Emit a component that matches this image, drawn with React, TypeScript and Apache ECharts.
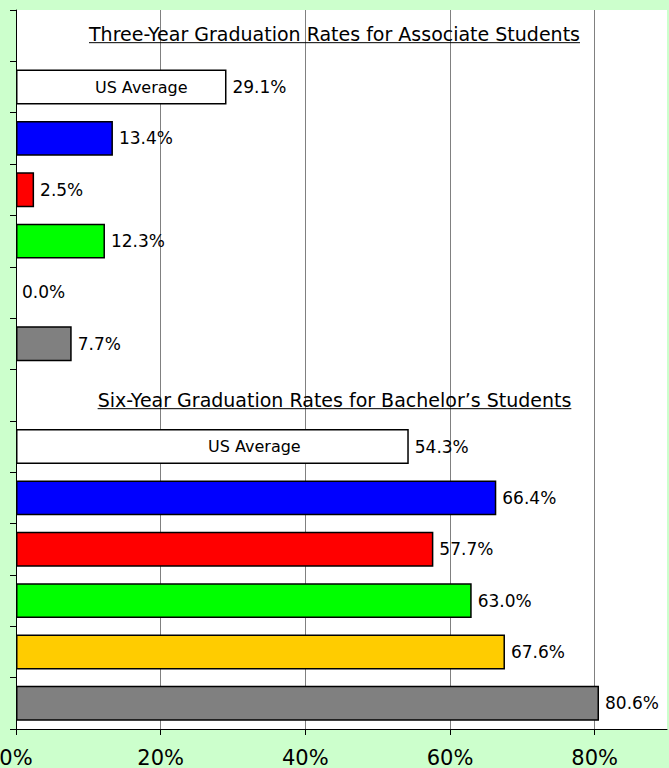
import React, { useEffect, useRef } from "react";
import * as echarts from "echarts";

const sectionTitles = [
  "Three-Year Graduation Rates for Associate Students",
  "Six-Year Graduation Rates for Bachelor\u2019s Students",
];
const barNames = ["US Average", "Blue", "Red", "Green", "Yellow", "Gray"];
const associateRates = [29.1, 13.4, 2.5, 12.3, 0.0, 7.7];
const bachelorRates = [54.3, 66.4, 57.7, 63.0, 67.6, 80.6];
const barColors = ["#FFFFFF", "#0000FF", "#FF0000", "#00FF00", "#FFCC00", "#808080"];
const xTickValues = [0, 20, 40, 60, 80];
const xMax = 90;
const usAverageLabel = "US Average";

const FONT = '"DejaVu Sans", Verdana, sans-serif';

type Row = { kind: "title"; text: string; section: number } | { kind: "bar"; name: string; value: number; color: string; section: number; idx: number };

function buildRows(): Row[] {
  const rows: Row[] = [];
  [associateRates, bachelorRates].forEach((vals, s) => {
    rows.push({ kind: "title", text: sectionTitles[s], section: s });
    vals.forEach((v, i) => rows.push({ kind: "bar", name: barNames[i], value: v, color: barColors[i], section: s, idx: i }));
  });
  return rows;
}

export default function App() {
  const ref = useRef<HTMLDivElement>(null);
  useEffect(() => {
    if (!ref.current) return;
    const chart = echarts.init(ref.current, null, { renderer: "svg" });
    const rows = buildRows();
    const categories = rows.map((r) => (r.kind === "title" ? r.text : `${r.section === 0 ? "Associate" : "Bachelor"} ${r.name}`));
    const usOffsets = [20, 42];
    const option: any = {
      animation: false,
      backgroundColor: "#CCFFCC",
      grid: {
        left: 16,
        right: 2,
        top: 10,
        bottom: 39,
        show: true,
        backgroundColor: "#FFFFFF",
        borderWidth: 0,
        containLabel: false,
        outerBoundsMode: "none",
      },
      xAxis: {
        type: "value",
        min: 0,
        max: xMax,
        interval: 20,
        axisLine: { show: true, lineStyle: { color: "#000", width: 1 } },
        axisTick: { show: true, length: 6, lineStyle: { color: "#000" }, customValues: xTickValues },
        axisLabel: {
          customValues: xTickValues,
          formatter: (v: number) => (xTickValues.includes(v) ? `${v}%` : ""),
          fontSize: 21,
          color: "#000",
          fontFamily: FONT,
          margin: 18,
          hideOverlap: false,
        },
        splitLine: { show: true, lineStyle: { color: ["#808080", "#808080", "#808080", "#808080", "#808080", "rgba(0,0,0,0)"], width: 1 } },
      },
      yAxis: {
        type: "category",
        inverse: true,
        data: categories,
        axisLine: { show: true, lineStyle: { color: "#000", width: 1 } },
        axisTick: { show: true, length: 6, lineStyle: { color: "#000" } },
        axisLabel: { show: false },
        splitLine: { show: false },
      },
      series: [
        {
          type: "bar",
          barWidth: "68%",
          data: rows.map((r) =>
            r.kind === "bar"
              ? { value: r.value, itemStyle: { color: r.color, borderColor: "#000", borderWidth: r.value === 0 ? 0 : 1.5 } }
              : "-"
          ),
          label: {
            show: true,
            position: "right",
            distance: 6,
            fontSize: 17,
            color: "#000",
            fontFamily: FONT,
            formatter: (p: any) => `${Number(p.value).toFixed(1)}%`,
          },
        },
        {
          type: "bar",
          barWidth: "68%",
          barGap: "-100%",
          silent: true,
          itemStyle: { color: "rgba(0,0,0,0)" },
          data: rows.map((r) =>
            r.kind === "bar" && r.idx === 0
              ? { value: r.value, label: { offset: [usOffsets[r.section], 0] } }
              : "-"
          ),
          label: {
            show: true,
            position: "inside",
            fontSize: 16,
            color: "#000",
            fontFamily: FONT,
            formatter: () => usAverageLabel,
          },
        },
      ],
    };
    chart.setOption(option);

    // Section titles placed on their (empty) category rows
    const titleFontSize = 19;
    const titleDy = [-2, 4.5];
    const ctx = document.createElement("canvas").getContext("2d");
    const elements: any[] = [];
    const cx = chart.getWidth() / 2;
    rows.forEach((r, i) => {
      if (r.kind !== "title") return;
      const y = chart.convertToPixel({ yAxisIndex: 0 }, i) as unknown as number;
      const cy = y + titleDy[r.section];
      let w = r.text.length * 9.5;
      if (ctx) {
        ctx.font = `${titleFontSize}px ${FONT}`;
        w = ctx.measureText(r.text).width;
      }
      elements.push({
        type: "text",
        x: cx,
        y: cy,
        style: { text: r.text, font: `${titleFontSize}px ${FONT}`, fill: "#000", align: "center", verticalAlign: "middle" },
      });
      elements.push({
        type: "line",
        shape: { x1: cx - w / 2, y1: cy + 9, x2: cx + w / 2, y2: cy + 9 },
        style: { stroke: "#000", lineWidth: 1 },
      });
    });
    chart.setOption({ graphic: elements });
    return () => chart.dispose();
  }, []);
  return <div ref={ref} style={{ position: "fixed", left: 0, top: 0, width: 669, height: 768 }} />;
}
